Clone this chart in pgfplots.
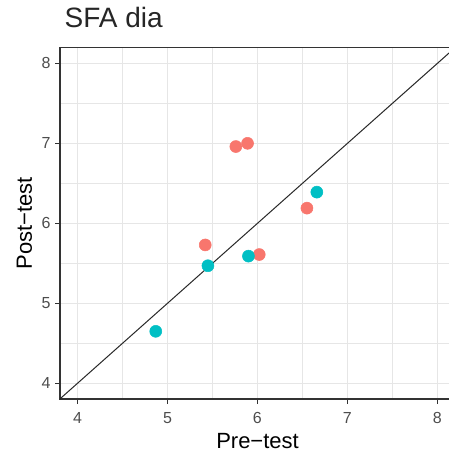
\documentclass[border=0pt]{standalone}
\usepackage{fontspec}
\setmainfont{Liberation Sans}
\usepackage{pgfplots}
\pgfplotsset{compat=1.18}
\definecolor{cred}{HTML}{F8766D}
\definecolor{cteal}{HTML}{00BFC4}
\definecolor{gridc}{HTML}{E6E6E6}
\definecolor{axc}{HTML}{333333}
\definecolor{tickc}{HTML}{4D4D4D}
\begin{document}
\begin{tikzpicture}
\begin{axis}[name=ax, at={(0,0)}, anchor=south west,
 scale only axis, width=296.3pt, height=263.5pt,
 xmin=3.806, xmax=8.196, ymin=3.804, ymax=8.196,
 xtick={4,5,6,7,8}, ytick={4,5,6,7,8},
 minor xtick={4.5,5.5,6.5,7.5}, minor ytick={4.5,5.5,6.5,7.5},
 grid=both,
 major grid style={gridc, line width=0.85pt},
 minor grid style={gridc, line width=0.7pt},
 axis line style={axc, line width=0.8pt},
 tick style={axc, line width=0.8pt},
 tick align=outside, major tick length=3.5pt, minor tick length=0pt,
 xtick pos=bottom, ytick pos=left,
 tick label style={font=\fontsize{12}{14}\selectfont, text=tickc},
 xticklabel style={yshift=-3pt},
 /pgf/number format/assume math mode=true,
 xlabel={Pre−test}, ylabel={Post−test},
 label style={font=\fontsize{16.5}{18}\selectfont},
 xlabel style={at={(axis description cs:0.5,0)}, anchor=base, yshift=-36.75pt},
 ylabel style={at={(axis description cs:0,0.5)}, anchor=base, yshift=21pt},
 clip=true,
]
\addplot[black!85, line width=0.75pt, no marks] coordinates {(3.7,3.7) (8.3,8.3)};
\addplot[only marks, mark=*, mark size=4.5pt, color=cred, fill=cred] coordinates {
 (5.76,6.96) (5.89,7.00) (6.55,6.19) (5.42,5.73) (6.02,5.61)
};
\addplot[only marks, mark=*, mark size=4.5pt, color=cteal, fill=cteal] coordinates {
 (6.66,6.39) (5.45,5.47) (5.90,5.59) (4.87,4.65)
};
\end{axis}
\node[anchor=base west, font=\fontsize{21}{24}\selectfont, text=black!85] at ([yshift=15pt]ax.north west) {SFA dia};
\pgfresetboundingbox
\path ([xshift=-45pt, yshift=-43.5pt]ax.south west) rectangle ++(336.75pt, 342.75pt);
\end{tikzpicture}
\end{document}
